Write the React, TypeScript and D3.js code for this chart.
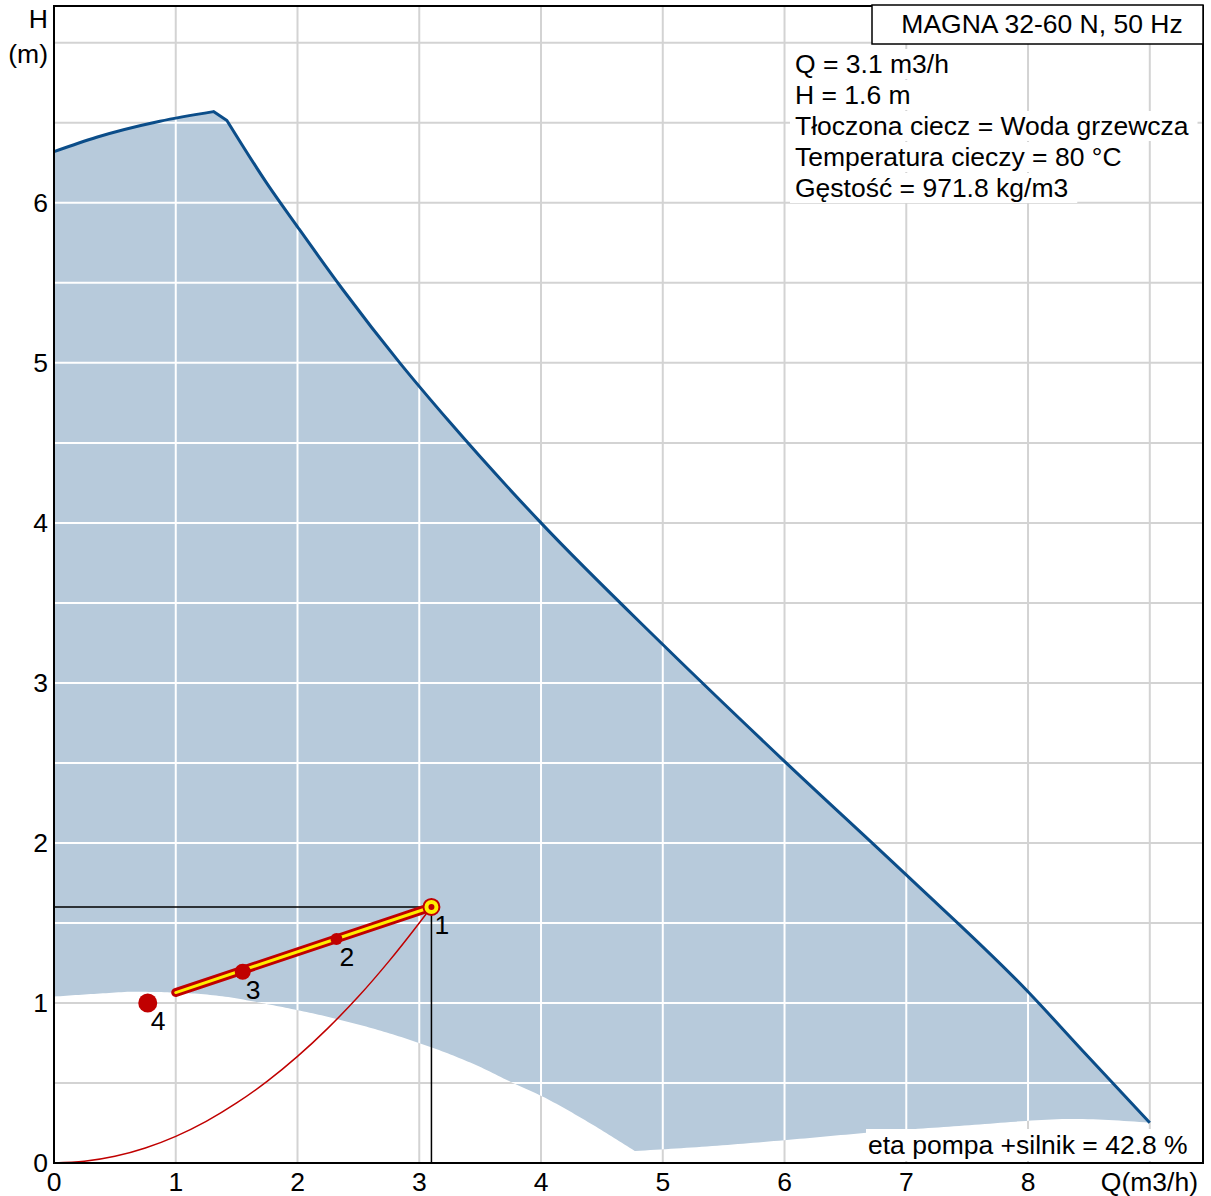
import React, { useEffect, useRef } from "react";
import * as d3 from "d3";

// Pump curve (max speed) – Q (m3/h), H (m); left rising part and right falling part
const MAX_Q_LEFT = [0, 0.35, 0.87, 1.31];
const MAX_H_LEFT = [6.32, 6.41, 6.51, 6.57];
const MAX_Q_RIGHT = [1.42, 1.75, 2.0, 2.37, 2.84, 3.25, 4.0, 5.0, 6.0, 7.0, 8.0, 8.45, 9.0];
const MAX_H_RIGHT = [6.515, 6.12, 5.85, 5.46, 5.0, 4.63, 4.0, 3.24, 2.51, 1.8, 1.07, 0.7, 0.252];
// Lower boundary (min speed), falling part and rising part
const MIN_Q_A = [0, 0.4, 0.65, 1.0, 1.4, 1.77, 2.29, 2.84, 3.5, 3.77, 4.0, 4.4, 4.77];
const MIN_H_A = [1.04, 1.06, 1.07, 1.065, 1.04, 0.99, 0.906, 0.79, 0.6, 0.5, 0.42, 0.25, 0.075];
const MIN_Q_B = [4.77, 5.3, 5.96, 6.7, 7.5, 8.37, 9.0];
const MIN_H_B = [0.075, 0.1, 0.14, 0.19, 0.235, 0.275, 0.252];
// System curve
const SYS_Q = [0, 0.25, 0.5, 0.75, 1.0, 1.25, 1.5, 1.75, 2.0, 2.25, 2.5, 2.75, 3.0, 3.1];
const SYS_H = [0, 0.0104, 0.0416, 0.0937, 0.1665, 0.26, 0.375, 0.51, 0.666, 0.843, 1.04, 1.26, 1.5, 1.6];
// Control line
const OP_Q = [1.0, 3.1];
const OP_H = [1.065, 1.6];
// Numbered points
const PT_LABELS = ["1", "2", "3", "4"];
const PT_Q = [3.1, 2.32, 1.55, 0.77];
const PT_H = [1.6, 1.4, 1.195, 1.0];
// Duty point
const DUTY_Q = 3.1;
const DUTY_H = 1.6;
// Ticks
const X_TICKS = [0, 1, 2, 3, 4, 5, 6, 7, 8];
const Y_TICKS = [0, 1, 2, 3, 4, 5, 6];
const TITLE = "MAGNA 32-60 N, 50 Hz";
const INFO_LINES = [
  "Q = 3.1 m3/h",
  "H = 1.6 m",
  "Tłoczona ciecz = Woda grzewcza",
  "Temperatura cieczy = 80 °C",
  "Gęstość = 971.8 kg/m3",
];
const ETA_TEXT = "eta pompa +silnik = 42.8 %";

const W = 1211;
const H = 1196;
const FONT = "'Liberation Sans', Arial, sans-serif";
const FS = 26.5;

export default function App() {
  const ref = useRef<SVGSVGElement | null>(null);

  useEffect(() => {
    const svg = d3.select(ref.current);
    svg.selectAll("*").remove();

    const left = 54, right = 1203, top = 6, bottom = 1163;
    const x = d3.scaleLinear().domain([0, 9.437]).range([left, right]);
    const y = d3.scaleLinear().domain([0, 7.23]).range([bottom, top]);

    const pts = (qs: number[], hs: number[]) =>
      qs.map((q, i) => [x(q), y(hs[i])] as [number, number]);
    const smooth = d3.line<[number, number]>().curve(d3.curveMonotoneX);
    const straight = d3.line<[number, number]>();

    const upLeft = pts(MAX_Q_LEFT, MAX_H_LEFT);
    const upRight = pts(MAX_Q_RIGHT, MAX_H_RIGHT);
    const upperPath =
      (smooth(upLeft) as string) + "L" + (smooth(upRight) as string).slice(1);

    const lowAPath = smooth(pts(MIN_Q_A, MIN_H_A)) as string;
    const lowBPath = smooth(pts(MIN_Q_B, MIN_H_B)) as string;
    const sampleCurve = (d: string, n: number) => {
      const p = document.createElementNS("http://www.w3.org/2000/svg", "path");
      p.setAttribute("d", d);
      const L = p.getTotalLength();
      const out: [number, number][] = [];
      for (let i = 0; i <= n; i++) {
        const pt = p.getPointAtLength((L * i) / n);
        out.push([pt.x, pt.y]);
      }
      return out;
    };
    const lowerForward = sampleCurve(lowAPath, 200).concat(sampleCurve(lowBPath, 100));
    const lowerRev = lowerForward.slice().reverse();
    const areaPath =
      upperPath + "L" + lowerRev.map((p) => p.join(",")).join("L") + "Z";

    const defs = svg.append("defs");
    defs.append("clipPath").attr("id", "fillClip").append("path").attr("d", areaPath);

    svg.append("rect").attr("x", 0).attr("y", 0).attr("width", W).attr("height", H).attr("fill", "#fff");

    const gridV = d3.range(1, 10);
    const gridH = d3.range(1, 15).map((d) => d * 0.5);

    const drawGrid = (g: any, color: string) => {
      g.selectAll("line.v").data(gridV).enter().append("line")
        .attr("x1", (d: number) => x(d)).attr("x2", (d: number) => x(d))
        .attr("y1", top).attr("y2", bottom)
        .attr("stroke", color).attr("stroke-width", 2);
      g.selectAll("line.h").data(gridH).enter().append("line")
        .attr("y1", (d: number) => y(d)).attr("y2", (d: number) => y(d))
        .attr("x1", left).attr("x2", right)
        .attr("stroke", color).attr("stroke-width", 2);
    };

    drawGrid(svg.append("g"), "#d3d3d3");

    svg.append("path").attr("d", areaPath).attr("fill", "#b7cadb");
    drawGrid(svg.append("g").attr("clip-path", "url(#fillClip)"), "#ffffff");

    svg.append("path").attr("d", upperPath).attr("fill", "none")
      .attr("stroke", "#0b4d89").attr("stroke-width", 3).attr("stroke-linejoin", "round");

    // system curve
    svg.append("path").attr("d", smooth(pts(SYS_Q, SYS_H)))
      .attr("fill", "none").attr("stroke", "#c00000").attr("stroke-width", 1.5);

    // duty crosshair
    svg.append("path")
      .attr("d", `M${x(0)},${y(DUTY_H)}L${x(DUTY_Q)},${y(DUTY_H)}L${x(DUTY_Q)},${y(0)}`)
      .attr("fill", "none").attr("stroke", "#000").attr("stroke-width", 1.5);

    // control line
    const op = pts(OP_Q, OP_H);
    svg.append("path").attr("d", straight(op)).attr("stroke", "#c00000").attr("stroke-width", 9)
      .attr("stroke-linecap", "round").attr("fill", "none");
    svg.append("path").attr("d", straight(op)).attr("stroke", "#ffee00").attr("stroke-width", 3)
      .attr("stroke-linecap", "round").attr("fill", "none");

    // points
    const radii = [0, 6, 8, 9.5];
    PT_Q.forEach((q, i) => {
      const cx = x(q), cy = y(PT_H[i]);
      if (i === 0) {
        svg.append("circle").attr("cx", cx).attr("cy", cy).attr("r", 8)
          .attr("fill", "#ffee00").attr("stroke", "#c00000").attr("stroke-width", 2);
        svg.append("circle").attr("cx", cx).attr("cy", cy).attr("r", 3).attr("fill", "#c00000");
      } else {
        svg.append("circle").attr("cx", cx).attr("cy", cy).attr("r", radii[i]).attr("fill", "#c00000");
      }
      svg.append("text").attr("x", cx + 3).attr("y", cy + 27)
        .attr("font-family", FONT).attr("font-size", FS).attr("fill", "#000")
        .text(PT_LABELS[i]);
    });

    // frame
    svg.append("rect").attr("x", left).attr("y", top).attr("width", right - left).attr("height", bottom - top)
      .attr("fill", "none").attr("stroke", "#000").attr("stroke-width", 2);

    // tick labels
    X_TICKS.forEach((t) => {
      svg.append("text").attr("x", x(t)).attr("y", 1191).attr("text-anchor", "middle")
        .attr("font-family", FONT).attr("font-size", FS).text(String(t));
    });
    Y_TICKS.forEach((t) => {
      svg.append("text").attr("x", 48).attr("y", y(t) + 9).attr("text-anchor", "end")
        .attr("font-family", FONT).attr("font-size", FS).text(String(t));
    });
    svg.append("text").attr("x", 48).attr("y", 28).attr("text-anchor", "end")
      .attr("font-family", FONT).attr("font-size", FS).text("H");
    svg.append("text").attr("x", 48).attr("y", 63).attr("text-anchor", "end")
      .attr("font-family", FONT).attr("font-size", FS).text("(m)");
    svg.append("text").attr("x", 1198).attr("y", 1191).attr("text-anchor", "end")
      .attr("font-family", FONT).attr("font-size", FS).text("Q(m3/h)");

    // info lines with white backgrounds
    const baselines = [73, 104, 135, 166, 197];
    INFO_LINES.forEach((s, i) => {
      const g = svg.append("g");
      const bg = g.append("rect").attr("fill", "#fff");
      const t = g.append("text").attr("x", 795).attr("y", baselines[i])
        .attr("font-family", FONT).attr("font-size", FS).text(s);
      const w = (t.node() as SVGTextElement).getComputedTextLength();
      bg.attr("x", 790).attr("y", baselines[i] - 24).attr("width", w + 14).attr("height", 30);
    });

    // title box
    svg.append("rect").attr("x", 872).attr("y", 5).attr("width", 331).attr("height", 39)
      .attr("fill", "#fff").attr("stroke", "#000").attr("stroke-width", 1.5);
    svg.append("text").attr("x", 1042).attr("y", 33).attr("text-anchor", "middle")
      .attr("font-family", FONT).attr("font-size", FS).text(TITLE);

    // eta label
    const eg = svg.append("g");
    const ebg = eg.append("rect").attr("fill", "#fff");
    const et = eg.append("text").attr("x", 868).attr("y", 1154)
      .attr("font-family", FONT).attr("font-size", FS).text(ETA_TEXT);
    const ew = (et.node() as SVGTextElement).getComputedTextLength();
    ebg.attr("x", 866).attr("y", 1129).attr("width", ew + 4).attr("height", 32);
  }, []);

  return (
    <svg
      ref={ref}
      width={W}
      height={H}
      style={{ position: "absolute", left: 0, top: 0, display: "block" }}
    />
  );
}
